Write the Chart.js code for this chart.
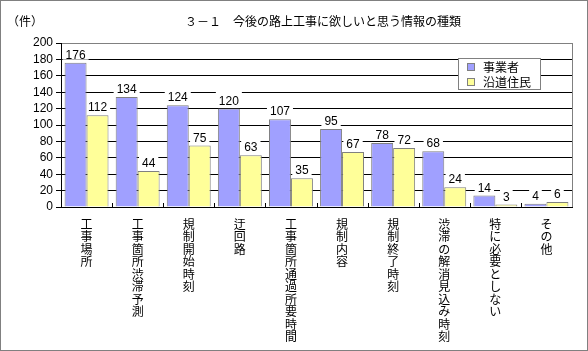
<!DOCTYPE html>
<html lang="ja">
<head>
<meta charset="utf-8">
<title>3-1 今後の路上工事に欲しいと思う情報の種類</title>
<script src="https://cdn.jsdelivr.net/npm/chart.js@4.4.1/dist/chart.umd.min.js"></script>
<style>
  html, body { margin: 0; padding: 0; background: #fff; }
  #wrap { width: 586px; height: 349px; border: 1px solid #808080; }
  canvas { display: block; }
</style>
</head>
<body>
<div id="wrap"><canvas id="chart" width="586" height="349"></canvas></div>
<script>
// data
const titleText = '３－１　今後の路上工事に欲しいと思う情報の種類';
const unitText = '（件）';
const categories = [
  '工事場所', '工事箇所渋滞予測', '規制開始時刻', '迂回路', '工事箇所通過所要時間',
  '規制内容', '規制終了時刻', '渋滞の解消見込み時刻', '特に必要としない', 'その他'
];
const seriesNames = ['事業者', '沿道住民'];
const businessValues = [176, 134, 124, 120, 107, 95, 78, 68, 14, 4];
const residentValues = [112, 44, 75, 63, 35, 67, 72, 24, 3, 6];
const yTicks = [0, 20, 40, 60, 80, 100, 120, 140, 160, 180, 200];

const FONT = '"Liberation Sans", "Noto Sans CJK JP", sans-serif';
const JP_FONT = '"Noto Sans CJK JP", sans-serif';
const colors = ['#A0A0FF', '#FFFF99'];

// value labels with white boxes, legend box, title, inner ticks
const decorations = {
  id: 'decorations',
  beforeDatasetsDraw(chart) {
    const ctx = chart.ctx;
    ctx.save();
    ctx.font = '12px ' + FONT;
    ctx.fillStyle = '#fff';
    chart.data.datasets.forEach((ds, di) => {
      chart.getDatasetMeta(di).data.forEach((bar, i) => {
        const w = ctx.measureText(String(ds.data[i])).width;
        ctx.fillRect(bar.x - w / 2 - 3, bar.y - 17, w + 6, 14);
      });
    });
    ctx.restore();
  },
  afterDatasetsDraw(chart) {
    const ctx = chart.ctx;
    const area = chart.chartArea;
    const x = chart.scales.x;
    ctx.save();
    // labels
    ctx.font = '12px ' + FONT;
    ctx.fillStyle = '#000';
    ctx.textAlign = 'center';
    ctx.textBaseline = 'alphabetic';
    chart.data.datasets.forEach((ds, di) => {
      chart.getDatasetMeta(di).data.forEach((bar, i) => {
        ctx.fillText(String(ds.data[i]), bar.x, bar.y - 4);
      });
    });
    // right border
    ctx.strokeStyle = '#808080';
    ctx.lineWidth = 1;
    ctx.beginPath();
    ctx.moveTo(Math.round(area.right) + 0.5, area.top);
    ctx.lineTo(Math.round(area.right) + 0.5, area.bottom);
    ctx.stroke();
    // small ticks at category boundaries, pointing up
    ctx.strokeStyle = '#000';
    ctx.beginPath();
    for (let i = 0; i < categories.length; i++) {
      const bx = i === 0 ? area.left : (x.getPixelForTick(i - 1) + x.getPixelForTick(i)) / 2;
      const px = Math.round(bx) + 0.5;
      ctx.moveTo(px, area.bottom);
      ctx.lineTo(px, area.bottom - 4);
    }
    ctx.stroke();
    ctx.restore();
  },
  afterDraw(chart) {
    const ctx = chart.ctx;
    ctx.save();
    // title and unit
    ctx.fillStyle = '#000';
    ctx.textBaseline = 'middle';
    ctx.font = '12px ' + JP_FONT;
    ctx.textAlign = 'center';
    ctx.fillText(titleText, 322, 20);
    ctx.textAlign = 'left';
    ctx.fillText(unitText, 6, 20);
    // legend box
    const lx = 457, ly = 57, lw = 82, lh = 31;
    ctx.fillStyle = '#fff';
    ctx.fillRect(lx, ly, lw, lh);
    ctx.strokeStyle = '#808080';
    ctx.lineWidth = 1;
    ctx.strokeRect(lx + 0.5, ly + 0.5, lw, lh);
    chart.data.datasets.forEach((ds, i) => {
      const cy = ly + 9 + i * 15;
      ctx.fillStyle = ds.backgroundColor;
      ctx.fillRect(lx + 9, cy - 4, 8, 8);
      ctx.strokeStyle = '#808080';
      ctx.strokeRect(lx + 9.5, cy - 3.5, 7, 7);
      ctx.fillStyle = '#000';
      ctx.font = '12px ' + JP_FONT;
      ctx.textAlign = 'left';
      ctx.fillText(ds.label, lx + 25, cy);
    });
    ctx.restore();
  }
};

new Chart(document.getElementById('chart'), {
  type: 'bar',
  data: {
    labels: categories.map(c => Array.from(c)),
    datasets: [
      { label: seriesNames[0], data: businessValues, backgroundColor: colors[0] },
      { label: seriesNames[1], data: residentValues, backgroundColor: colors[1] }
    ]
  },
  options: {
    responsive: false,
    animation: false,
    layout: { padding: { left: 16, right: 15, top: 42, bottom: 0 } },
    datasets: {
      bar: {
        borderColor: '#808080',
        borderWidth: 1,
        categoryPercentage: 0.86,
        barPercentage: 1
      }
    },
    plugins: {
      legend: { display: false },
      title: { display: false },
      tooltip: { enabled: false }
    },
    scales: {
      x: {
        grid: { display: false },
        border: { display: true, color: '#000', width: 1 },
        ticks: {
          autoSkip: false,
          maxRotation: 0,
          minRotation: 0,
          padding: 3,
          color: '#000',
          font: { family: JP_FONT, size: 12, lineHeight: '12.5px' }
        },
        afterFit(scale) { scale.height = 143; }
      },
      y: {
        min: 0,
        max: 200,
        afterBuildTicks(scale) { scale.ticks = yTicks.map(v => ({ value: v })); },
        grid: {
          color: ctx => (ctx.tick && ctx.tick.value === 200 ? '#808080' : '#000'),
          tickLength: 5,
          tickColor: '#000'
        },
        border: { display: true, color: '#000', width: 1 },
        ticks: {
          autoSkip: false,
          padding: 3,
          color: '#000',
          font: { family: FONT, size: 12 }
        },
        afterFit(scale) { scale.width = 44; }
      }
    }
  },
  plugins: [decorations]
});
</script>
</body>
</html>
